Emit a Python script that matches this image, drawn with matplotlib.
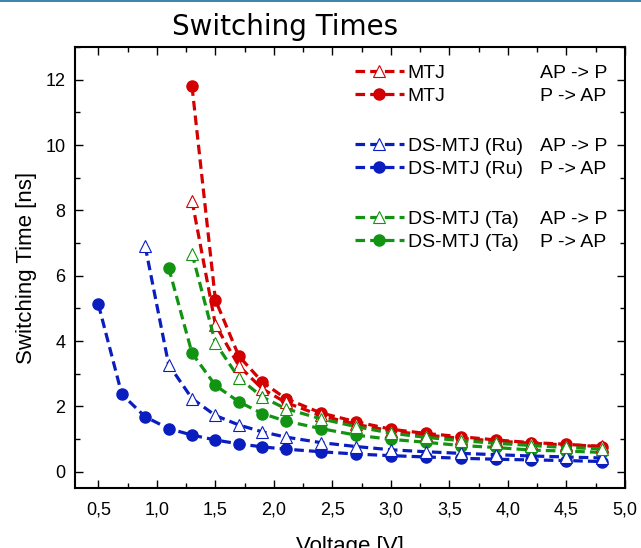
import matplotlib
matplotlib.use("Agg")
import matplotlib.pyplot as plt
from matplotlib.lines import Line2D
from matplotlib.ticker import MultipleLocator, FuncFormatter

# voltages [V]
volt = [0.5, 0.7, 0.9, 1.1, 1.3, 1.5, 1.7, 1.9, 2.1, 2.4, 2.7, 3.0, 3.3, 3.6, 3.9, 4.2, 4.5, 4.8]

# switching times [ns]
mtj_ap_p = [8.3, 4.5, 3.24, 2.54, 2.12, 1.72, 1.45, 1.25, 1.12, 1.02, 0.94, 0.87, 0.82, 0.78]
mtj_p_ap = [11.8, 5.26, 3.54, 2.75, 2.24, 1.80, 1.53, 1.30, 1.17, 1.07, 0.97, 0.89, 0.84, 0.76]
ru_ap_p = [6.9, 3.28, 2.24, 1.72, 1.43, 1.22, 1.06, 0.89, 0.77, 0.67, 0.61, 0.56, 0.52, 0.48, 0.45, 0.42]
ru_p_ap = [5.12, 2.37, 1.68, 1.32, 1.12, 0.97, 0.85, 0.76, 0.69, 0.61, 0.54, 0.49, 0.45, 0.41, 0.38, 0.36, 0.34, 0.31]
ta_ap_p = [6.68, 3.94, 2.87, 2.29, 1.93, 1.62, 1.38, 1.18, 1.05, 0.95, 0.87, 0.80, 0.74, 0.70]
ta_p_ap = [6.25, 3.63, 2.64, 2.14, 1.78, 1.55, 1.32, 1.12, 0.99, 0.90, 0.80, 0.74, 0.66, 0.63, 0.59]

names = ["MTJ", "MTJ", "DS-MTJ (Ru)", "DS-MTJ (Ru)", "DS-MTJ (Ta)", "DS-MTJ (Ta)"]
dirs = ["AP -> P", "P -> AP", "AP -> P", "P -> AP", "AP -> P", "P -> AP"]
series = [mtj_ap_p, mtj_p_ap, ru_ap_p, ru_p_ap, ta_ap_p, ta_p_ap]
colors = ["#d40000", "#d40000", "#0a1ec0", "#0a1ec0", "#129412", "#129412"]

plt.rcParams["font.family"] = ["Liberation Sans", "DejaVu Sans"]

fig = plt.figure(figsize=(6.41, 5.48), dpi=100)
ax = fig.add_axes([0.117, 0.1095, 0.858, 0.8045])

handles = []
for i, (ys, c) in enumerate(zip(series, colors)):
    xs = volt[len(volt) - len(ys):]
    if i % 2 == 0:
        h, = ax.plot(xs, ys, color=c, lw=2.3, dashes=(3.0, 1.6), marker="^",
                     ms=8.5, mfc="white", mec=c, mew=0.8, zorder=4)
    else:
        h, = ax.plot(xs, ys, color=c, lw=2.3, dashes=(3.0, 1.6), marker="o",
                     ms=8, mfc=c, mec=c, zorder=3)
    handles.append(h)

blank = Line2D([], [], linestyle="none", marker=None)
leg_h = [handles[0], handles[1], blank, handles[2], handles[3], blank, handles[4], handles[5]]
leg_l = [names[0], names[1], " ", names[2], names[3], " ", names[4], names[5]]
leg = ax.legend(leg_h, leg_l, loc="upper left", bbox_to_anchor=(0.495, 0.978),
                frameon=False, fontsize=14, handlelength=2.5, handletextpad=0.2,
                labelspacing=0.27, borderaxespad=0.0, numpoints=1)
# taller empty rows between the groups
for t in leg.get_texts():
    if t.get_text().strip() == "":
        t.set_fontsize(17)

ax.set_xlim(0.3, 5.0)
ax.set_ylim(-0.5, 13)
ax.xaxis.set_major_locator(MultipleLocator(0.5))
ax.xaxis.set_minor_locator(MultipleLocator(0.25))
ax.yaxis.set_major_locator(MultipleLocator(2))
ax.yaxis.set_minor_locator(MultipleLocator(1))
ax.xaxis.set_major_formatter(FuncFormatter(lambda v, p: ("%.1f" % v).replace(".", ",")))
ax.yaxis.set_major_formatter(FuncFormatter(lambda v, p: "%d" % v))
ax.tick_params(which="both", direction="in", top=True, right=True, labelsize=13, width=1.0)
ax.tick_params(which="major", length=6)
ax.tick_params(axis="x", which="major", pad=10)
ax.tick_params(axis="y", which="major", pad=7)
ax.tick_params(which="minor", length=3.5)
for s in ax.spines.values():
    s.set_linewidth(1.5)

ax.set_ylabel("Switching Time [ns]", fontsize=16, labelpad=6)
ax.set_xlabel("Voltage [V]", fontsize=16, labelpad=12)
fig.text(0.444, 0.951, "Switching Times", ha="center", va="center",
         fontsize=20, family="DejaVu Sans")

# direction column of the legend
fig.canvas.draw()
k = 0
for t in leg.get_texts():
    if t.get_text().strip() == "":
        continue
    bb = t.get_window_extent()
    yc = ax.transAxes.inverted().transform((0, (bb.y0 + bb.y1) / 2))[1]
    ax.text(0.845, yc, dirs[k], transform=ax.transAxes, fontsize=14, va="center", ha="left")
    k += 1

fig.add_artist(Line2D([0, 1], [0.999, 0.999], transform=fig.transFigure, color="#1a6fa0", lw=1.2))

fig.savefig("out.png", dpi=100)
